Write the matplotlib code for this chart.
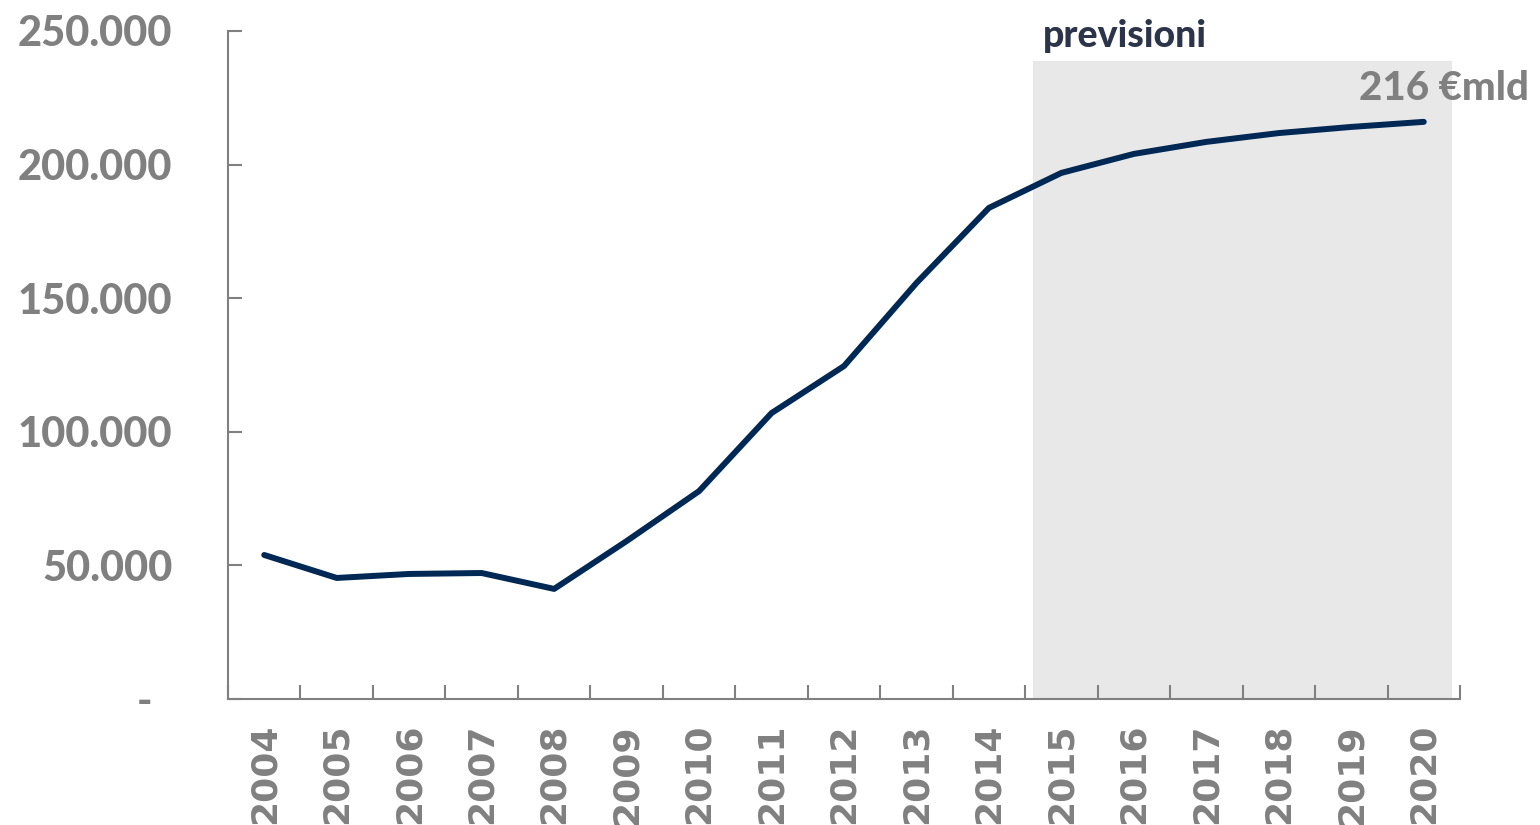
import matplotlib
matplotlib.use("Agg")
import matplotlib.pyplot as plt
import numpy as np
from matplotlib.ticker import FixedLocator

years = ["2004", "2005", "2006", "2007", "2008", "2009", "2010", "2011", "2012",
         "2013", "2014", "2015", "2016", "2017", "2018", "2019", "2020"]
values = [53900, 45300, 46800, 47150, 41200, 59100, 77800, 107000, 124600,
          155700, 183800, 196900, 204000, 208500, 211800, 214100, 216000]
y_ticks = [0, 50000, 100000, 150000, 200000, 250000]
y_labels = ["-  ", "50.000", "100.000", "150.000", "200.000", "250.000"]
forecast_start = 10.61
forecast_end = 16.39
forecast_top = 238800
forecast_label = "previsioni"
end_label = "216 €mld"

GRAY = "#808080"
NAVY = "#002855"

fig = plt.figure(figsize=(15.4, 8.25), dpi=100)
ax = fig.add_axes([228/1540, (825-699)/825, (1460-228)/1540, (699-31)/825])

x = np.arange(len(years))
ax.axvspan(forecast_start, forecast_end, ymin=0, ymax=forecast_top/250000,
           color="#e8e8e8", lw=0, zorder=0)
ax.plot(x, values, color=NAVY, lw=4.3, solid_capstyle="round", zorder=3)

ax.set_xlim(-0.5, len(years) - 0.5)
ax.set_ylim(0, 250000)

for s in ["top", "right"]:
    ax.spines[s].set_visible(False)
for s in ["left", "bottom"]:
    ax.spines[s].set_color(GRAY)
    ax.spines[s].set_linewidth(1.5)

ax.set_yticks(y_ticks)
ax.set_yticklabels(y_labels, fontfamily="Lato", fontweight="black", fontsize=30, color=GRAY)
ax.tick_params(axis="y", direction="in", length=10, width=1.5, color=GRAY, pad=40)

ax.set_xticks(x)
ax.set_xticklabels(years, rotation=90, fontfamily="DejaVu Sans", fontweight="bold",
                   fontsize=26, color=GRAY)
ax.tick_params(axis="x", which="major", length=0, pad=18)
ax.xaxis.set_minor_locator(FixedLocator(np.arange(-0.5, len(years), 1.0)))
ax.tick_params(axis="x", which="minor", direction="in", length=10, width=1.5, color=GRAY)

ax.annotate(forecast_label, xy=(forecast_start, forecast_top), xytext=(7, 10),
            textcoords="offset points", ha="left", va="baseline",
            fontfamily="Lato", fontweight="black", fontsize=27, color="#2b3448",
            annotation_clip=False)
ax.annotate(end_label, xy=(len(years) - 1, values[-1]), xytext=(14.4, 15.8),
            textcoords="offset points", ha="center", va="baseline",
            fontfamily="Lato", fontweight="black", fontsize=29, color=GRAY,
            annotation_clip=False)

fig.savefig("out.png", dpi=100)
